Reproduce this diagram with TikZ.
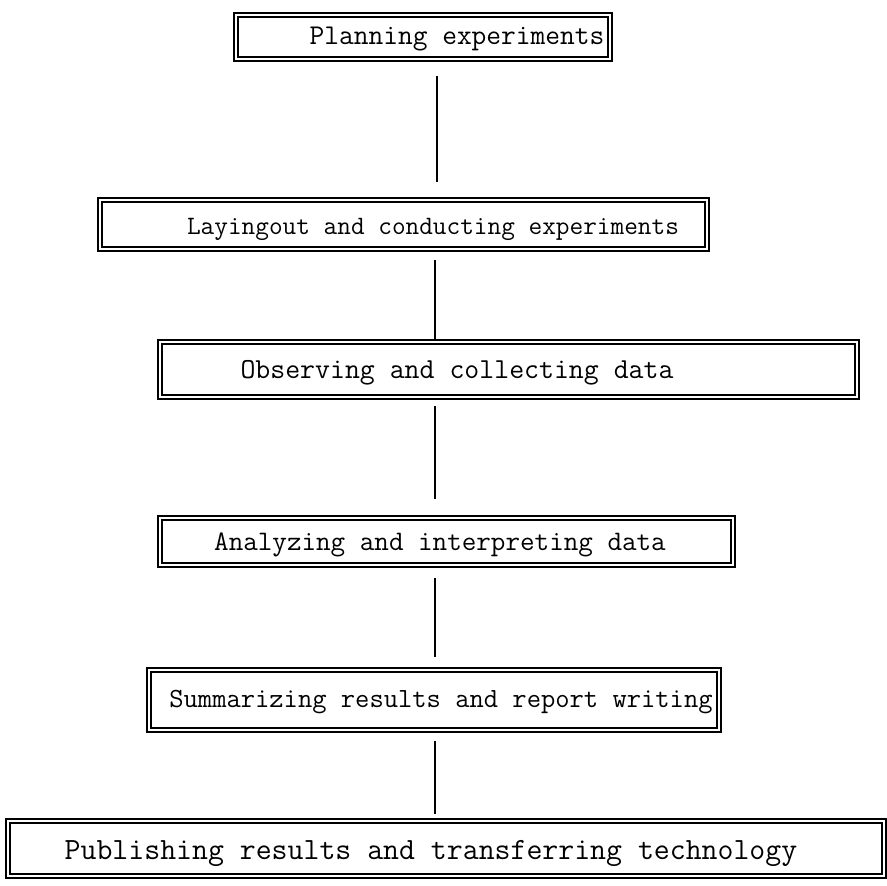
\documentclass[tikz,border=0pt]{standalone}
\usetikzlibrary{calc,fit}
\begin{document}
\begin{tikzpicture}[
	x=0.02cm, y=-0.02cm,
	stage/.style={rectangle, draw=black, line width=0.9pt, double=white,
	double distance=1.6pt, inner sep=0pt},
	caption/.style={anchor=base, inner sep=0pt,
	font=\ttfamily\fontsize{16}{18}\selectfont},
	link/.style={draw=black, line width=0.8pt},
	]
	\useasboundingbox (0,0) rectangle (887,886);
	% boxes
	\node[stage, fit={(236,15) (610,59)}] (b1) {};
	\node[stage, fit={(100,200) (707,249)}] (b2) {};
	\node[stage, fit={(160,342) (857,397)}] (b3) {};
	\node[stage, fit={(160,518) (733,565)}] (b4) {};
	\node[stage, fit={(149,670) (719,730)}] (b5) {};
	\node[stage, fit={(8,821) (884,876)}] (b6) {};
	% texts
	\node[caption, font=\ttfamily\fontsize{16.3}{18}\selectfont] (t1) at (457,44) {Planning experiments};
	\node[caption, font=\ttfamily\fontsize{15.1}{17}\selectfont] (t2) at (433,234) {Layingout and conducting experiments};
	\node[caption, font=\ttfamily\fontsize{16.5}{18}\selectfont] (t3) at (457,378) {Observing and collecting data};
	\node[caption, font=\ttfamily\fontsize{16.1}{18}\selectfont] (t4) at (440,550) {Analyzing and interpreting data};
	\node[caption, font=\ttfamily\fontsize{15.8}{18}\selectfont] (t5) at (441,707) {Summarizing results and report writing};
	\node[caption, font=\ttfamily\fontsize{17.6}{19}\selectfont] (t6) at (431,859) {Publishing results and transferring technology};
	% connectors
	\coordinate (x1) at (437,0);
	\coordinate (x2) at (435,0);
	\draw[link] ($(b1.south-|x1)+(0,16)$) -- ($(b2.north-|x1)+(0,-17)$);
	\draw[link] ($(b2.south-|x2)+(0,10)$) -- ($(b3.north-|x2)+(0,-1)$);
	\draw[link] ($(b3.south-|x2)+(0,8)$) -- ($(b4.north-|x2)+(0,-18)$);
	\draw[link] ($(b4.south-|x2)+(0,12)$) -- ($(b5.north-|x2)+(0,-12)$);
	\draw[link] ($(b5.south-|x2)+(0,10)$) -- ($(b6.north-|x2)+(0,-6)$);
\end{tikzpicture}
\end{document}
